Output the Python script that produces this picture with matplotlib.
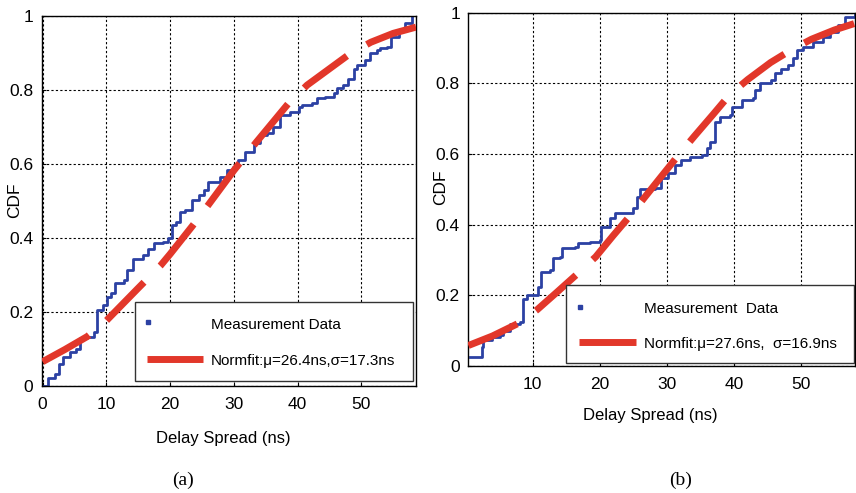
import matplotlib
matplotlib.use("Agg")
import matplotlib.pyplot as plt
from matplotlib.patches import Rectangle

# ---- data ----
# (a) measured CDF (staircase) and normal fit
a_meas_x = [0, 0.9, 1.9, 2.6, 3.2, 4.3, 5.3, 5.9, 6.9, 8.0, 8.5, 9.5, 10.1, 10.8, 11.4,
            12.7, 13.2, 14.2, 15.8, 16.6, 17.4, 18.9, 19.7, 20.3, 21.0, 21.6, 22.4, 23.4,
            24.5, 25.3, 26.0, 27.8, 28.9, 29.9, 30.7, 31.8, 33.1, 34.1, 35.2, 36.2, 37.3,
            38.8, 40.2, 40.7, 42.3, 43.0, 44.3, 45.7, 46.2, 47.2, 48.0, 48.8, 49.3, 50.6,
            51.4, 52.5, 53.0, 54.0, 54.6, 55.9, 56.9, 58.0]
a_meas_y = [0, 0.02, 0.033, 0.06, 0.078, 0.092, 0.10, 0.128, 0.133, 0.146, 0.205, 0.218,
            0.24, 0.25, 0.277, 0.286, 0.313, 0.344, 0.353, 0.371, 0.385, 0.39, 0.40, 0.435,
            0.444, 0.47, 0.475, 0.502, 0.516, 0.529, 0.552, 0.565, 0.583, 0.592, 0.61,
            0.633, 0.656, 0.678, 0.683, 0.70, 0.732, 0.741, 0.755, 0.759, 0.764, 0.777,
            0.782, 0.791, 0.804, 0.813, 0.831, 0.858, 0.867, 0.881, 0.899, 0.908, 0.913,
            0.917, 0.944, 0.962, 0.98, 1.0]
a_fit_x = [0, 3.5, 7.0, 10.0, 15.0, 18.5, 20.0, 23.5, 26.0, 30.0, 33.5, 38.5, 41.5, 48.0, 51.5, 55.0, 58.6]
a_fit_y = [0.065, 0.098, 0.133, 0.176, 0.264, 0.325, 0.356, 0.432, 0.489, 0.582, 0.658, 0.762, 0.813, 0.895, 0.929, 0.953, 0.970]
a_label = "Normfit:\u03bc=26.4ns,\u03c3=17.3ns"

# (b) measured CDF (staircase) and normal fit
b_meas_x = [0.66, 2.15, 2.4, 2.65, 3.9, 5.1, 5.6, 6.6, 8.1, 8.6, 9.1, 10.35, 10.8, 11.3,
            12.6, 13.1, 14.1, 14.3, 16.3, 16.8, 18.5, 20.0, 20.2, 21.5, 22.3, 24.3, 25.0,
            25.5, 26.0, 28.2, 29.2, 30.2, 31.2, 32.2, 33.5, 35.2, 36.0, 36.4, 37.2, 37.9,
            39.4, 39.7, 41.2, 42.9, 43.1, 43.9, 45.6, 46.1, 47.1, 48.1, 48.9, 49.4, 50.3,
            51.8, 53.3, 54.3, 55.6, 56.6, 58.1]
b_meas_y = [0.025, 0.025, 0.055, 0.074, 0.083, 0.088, 0.10, 0.12, 0.125, 0.19, 0.20, 0.20,
            0.225, 0.267, 0.272, 0.305, 0.309, 0.333, 0.338, 0.347, 0.352, 0.357, 0.394,
            0.418, 0.432, 0.432, 0.446, 0.479, 0.50, 0.503, 0.531, 0.545, 0.569, 0.583,
            0.592, 0.597, 0.616, 0.635, 0.692, 0.706, 0.710, 0.734, 0.753, 0.758, 0.781,
            0.80, 0.81, 0.828, 0.842, 0.852, 0.871, 0.894, 0.904, 0.918, 0.932, 0.946,
            0.965, 0.988, 0.998]
b_fit_x = [0.4, 4.0, 8.1, 10.7, 13.5, 16.5, 19.4, 22.0, 24.6, 26.6, 29.0, 31.8, 34.1, 37.0, 39.4, 42.1, 45.5, 48.6, 51.6, 55.0, 58.1]
b_fit_y = [0.058, 0.085, 0.123, 0.160, 0.207, 0.258, 0.309, 0.369, 0.427, 0.475, 0.532, 0.598, 0.650, 0.714, 0.768, 0.811, 0.859, 0.895, 0.925, 0.951, 0.970]
b_label = "Normfit:\u03bc=27.6ns,  \u03c3=16.9ns"

blue = "#2c41a3"
red = "#e2372a"
sans = ["Liberation Sans", "DejaVu Sans"]

fig = plt.figure(figsize=(8.56, 4.93), dpi=100)
ax1 = fig.add_axes([0.0487, 0.2176, 0.4373, 0.7499])
ax2 = fig.add_axes([0.5471, 0.2576, 0.4518, 0.7166])


def draw_panel(ax, mx, my, fx, fy, lab, xlim, xticks, leg, meas_text, xlab_pos, ylab_pos):
    ax.plot(mx, my, color=blue, lw=2.0, drawstyle="steps-post", zorder=2)
    ax.plot(fx, fy, color=red, lw=5, linestyle=(0, (7.7, 3.3)), zorder=3)
    ax.set_xlim(xlim)
    ax.set_ylim(0, 1)
    ax.set_xticks(xticks)
    ax.set_xticklabels([str(t) for t in xticks], family=sans, fontsize=12.5)
    ax.set_yticks([0, 0.2, 0.4, 0.6, 0.8, 1])
    ax.set_yticklabels(["0", "0.2", "0.4", "0.6", "0.8", "1"], family=sans, fontsize=12.5)
    ax.tick_params(direction="in", length=3, width=0.8)
    ax.tick_params(axis="x", pad=8)
    ax.tick_params(axis="y", pad=6)
    ax.grid(True, color="black", lw=0.8, linestyle=(0, (2, 2)))
    for s in ax.spines.values():
        s.set_linewidth(1.0)
    ax.set_xlabel("Delay Spread (ns)", family=sans, fontsize=12)
    ax.xaxis.set_label_coords(*xlab_pos)
    ax.xaxis.label.set_va("center")
    ax.set_ylabel("CDF", family=sans, fontsize=12.5)
    ax.yaxis.set_label_coords(*ylab_pos)
    ax.yaxis.label.set_va("center")

    # legend box, drawn by hand (MATLAB style)
    x0, y0, x1, y1 = leg
    ax.add_patch(Rectangle((x0, y0), x1 - x0, y1 - y0, transform=ax.transAxes,
                           facecolor="white", edgecolor="#333333", lw=1.0, zorder=5))
    ax.plot([x0 + 0.036], [y0 + 0.16], marker="s", ms=3, color=blue, ls="none",
            transform=ax.transAxes, zorder=6)
    ax.plot([x0 + 0.033, x0 + 0.181], [y0 + 0.06, y0 + 0.06], color=red, lw=5,
            transform=ax.transAxes, zorder=6, solid_capstyle="butt")
    ax.text(x0 + 0.203, y0 + 0.152, meas_text, transform=ax.transAxes, family=sans,
            fontsize=11, va="center", ha="left", zorder=7)
    ax.text(x0 + 0.203, y0 + 0.054, lab, transform=ax.transAxes, family=sans,
            fontsize=11, va="center", ha="left", zorder=7)


draw_panel(ax1, a_meas_x, a_meas_y, a_fit_x, a_fit_y, a_label, (-0.15, 58.6),
           [0, 10, 20, 30, 40, 50], (0.249, 0.013, 0.992, 0.226), "Measurement Data",
           (0.486, -0.1415), (-0.071, 0.502))
draw_panel(ax2, b_meas_x, b_meas_y, b_fit_x, b_fit_y, b_label, (0.39, 58.1),
           [10, 20, 30, 40, 50], (0.252, 0.008, 0.996, 0.229), "Measurement  Data",
           (0.47, -0.1387), (-0.071, 0.507))

fig.text(0.2138, 0.0264, "(a)", family=["Liberation Serif", "DejaVu Serif"], fontsize=14,
         ha="center", va="center")
fig.text(0.7956, 0.0264, "(b)", family=["Liberation Serif", "DejaVu Serif"], fontsize=14,
         ha="center", va="center")

fig.savefig("out.png", dpi=100)
